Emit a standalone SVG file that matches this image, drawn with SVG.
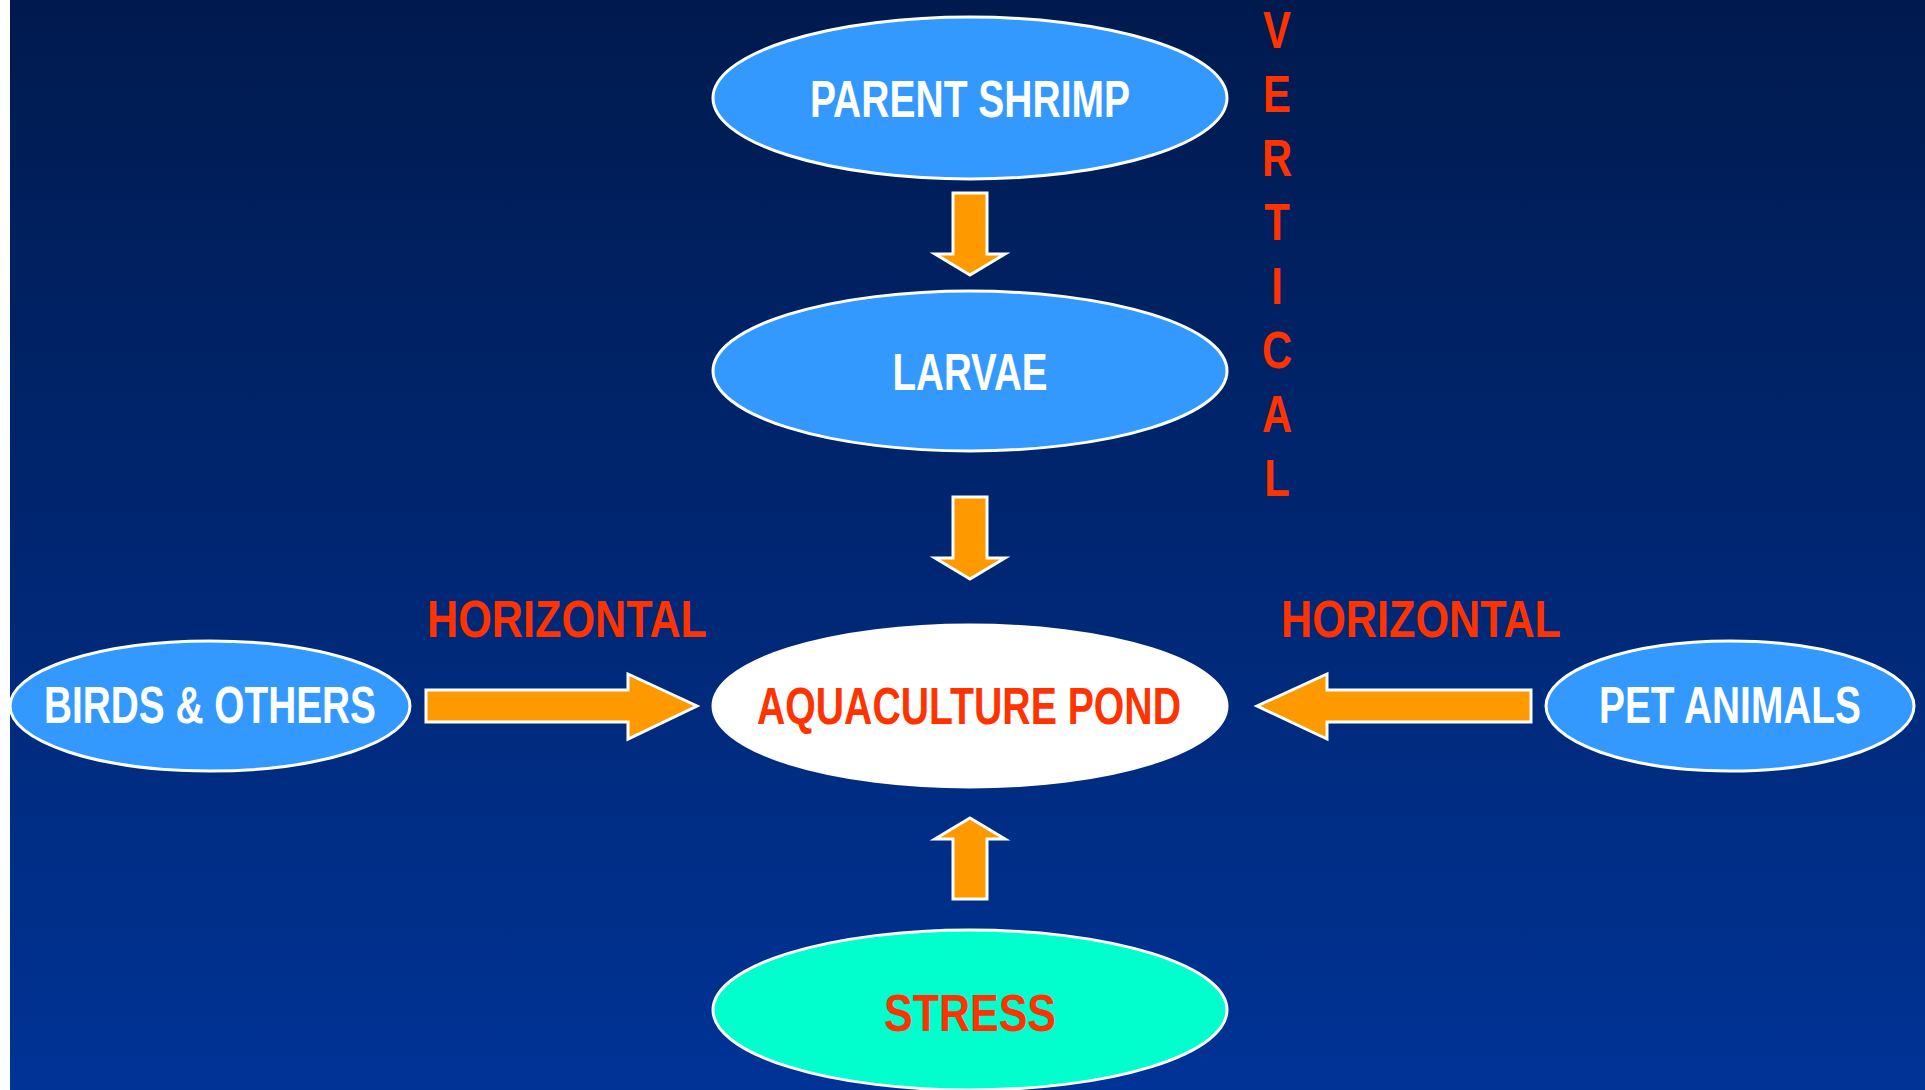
<svg xmlns="http://www.w3.org/2000/svg" width="1925" height="1090" viewBox="0 0 1925 1090">
<defs>
<linearGradient id="bg" x1="0" y1="0" x2="0" y2="1">
<stop offset="0" stop-color="#001a4e"/>
<stop offset="1" stop-color="#003396"/>
</linearGradient>
</defs>
<style>
.blue{fill:#3399ff;stroke:#ffffff;stroke-width:3}
.pond{fill:#ffffff;stroke:#ffffff;stroke-width:3}
.stress{fill:#00ffcc;stroke:#ffffff;stroke-width:3}
.arrow{fill:#ff9900;stroke:#ffffff;stroke-width:3}
.t{font-family:"Liberation Sans Narrow","Liberation Sans",Arial,sans-serif;font-weight:bold;font-size:51px;text-anchor:middle}
.w{fill:#ffffff}
.r{fill:#ff3300}
</style>
<rect x="0" y="0" width="1925" height="1090" fill="#ffffff"/>
<rect x="10" y="0" width="1915" height="1090" fill="url(#bg)"/>

<g id="parent-shrimp">
<ellipse class="blue" cx="970" cy="98" rx="257" ry="81"/>
<text class="t w" x="970" y="117" textLength="320" lengthAdjust="spacingAndGlyphs">PARENT SHRIMP</text>
</g>
<g id="larvae">
<ellipse class="blue" cx="970" cy="371" rx="257" ry="80"/>
<text class="t w" x="970" y="390" textLength="155" lengthAdjust="spacingAndGlyphs">LARVAE</text>
</g>
<g id="aquaculture-pond">
<ellipse class="pond" cx="970" cy="706" rx="257" ry="81"/>
<text class="t r" x="969" y="724" textLength="424" lengthAdjust="spacingAndGlyphs">AQUACULTURE POND</text>
</g>
<g id="stress">
<ellipse class="stress" cx="970" cy="1010" rx="257" ry="80"/>
<text class="t r" x="970" y="1031" textLength="172" lengthAdjust="spacingAndGlyphs">STRESS</text>
</g>
<g id="birds-others">
<ellipse class="blue" cx="210" cy="706" rx="200" ry="65"/>
<text class="t w" x="210" y="723" textLength="332" lengthAdjust="spacingAndGlyphs">BIRDS &amp; OTHERS</text>
</g>
<g id="pet-animals">
<ellipse class="blue" cx="1730" cy="706" rx="184" ry="65"/>
<text class="t w" x="1730" y="723" textLength="262" lengthAdjust="spacingAndGlyphs">PET ANIMALS</text>
</g>

<g id="connectors">
<polygon class="arrow" points="953,193 987,193 987,254 1005,254 970,275 935,254 953,254"/>
<polygon class="arrow" points="953,497 987,497 987,558 1005,558 970,579 935,558 953,558"/>
<polygon class="arrow" points="953,899 987,899 987,839 1005,839 970,818 935,839 953,839"/>
<polygon class="arrow" points="426,690 628,690 628,674 697,706 628,739 628,722 426,722"/>
<polygon class="arrow" points="1531,690 1327,690 1327,674 1257,706 1327,739 1327,722 1531,722"/>
</g>

<g id="labels">
<text class="t r" x="567" y="637" textLength="280" lengthAdjust="spacingAndGlyphs">HORIZONTAL</text>
<text class="t r" x="1421" y="637" textLength="280" lengthAdjust="spacingAndGlyphs">HORIZONTAL</text>
<g transform="translate(1277,0) scale(0.82,1)">
<text class="t r" x="0" y="48">V</text>
<text class="t r" x="0" y="112">E</text>
<text class="t r" x="0" y="176">R</text>
<text class="t r" x="0" y="240">T</text>
<text class="t r" x="0" y="304">I</text>
<text class="t r" x="0" y="368">C</text>
<text class="t r" x="0" y="432">A</text>
<text class="t r" x="0" y="496">L</text>
</g>
</g>
</svg>
